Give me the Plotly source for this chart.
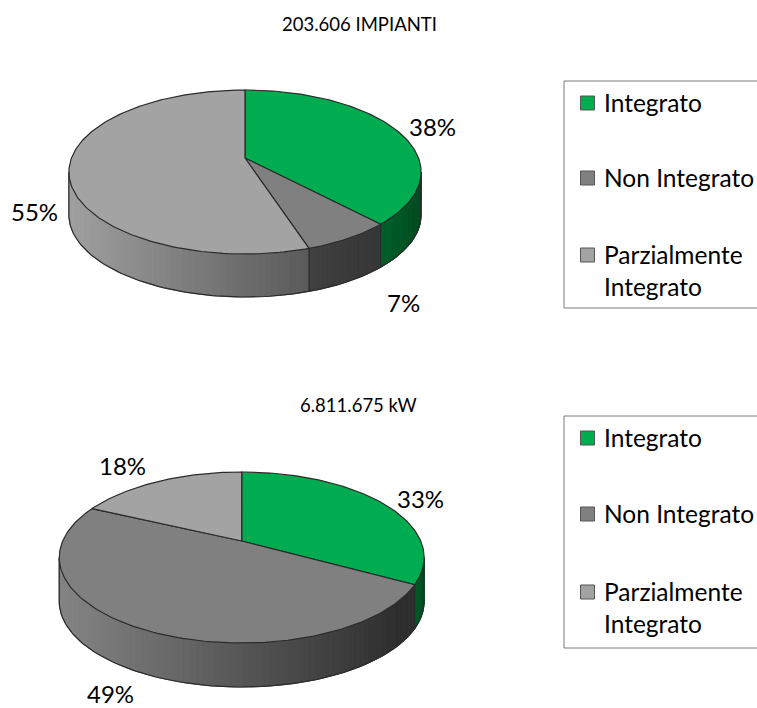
import math
import plotly.graph_objects as go

# ---- data ----
categories = ["Integrato", "Non Integrato", "Parzialmente Integrato"]
impianti_values = [38, 7, 55]
kw_values = [33, 49, 18]
impianti_title = "203.606 IMPIANTI"
kw_title = "6.811.675 kW"

# ---- styles ----
FONT = "Lato, Carlito, sans-serif"
TOP_COL = ["#00ac50", "#808080", "#a3a3a3"]
EDGE = "#2b2b2b"
W, H = 757, 708


def hexrgb(c):
    return tuple(int(c[i:i + 2], 16) for i in (1, 3, 5))


def lerp(a, b, t):
    t = max(0.0, min(1.0, t))
    ra, rb = hexrgb(a), hexrgb(b)
    return "rgb(%d,%d,%d)" % tuple(round(x + (y - x) * t) for x, y in zip(ra, rb))


class Pie:
    def __init__(self, cx, cy, up, down, R, depth):
        self.cx, self.cy, self.R, self.depth = cx, cy, R, depth
        self.k = (down - up) / (down + up)
        self.R2 = up * (1 + self.k)

    def pt(self, frac, dz=0.0):
        th = 2 * math.pi * frac
        u, v = math.sin(th), math.cos(th)
        d = 1 + self.k * v
        return self.cx + self.R * u / d, self.cy - self.R2 * v / d + dz


def arc(p, f0, f1, dz=0.0, n=None):
    n = n or max(2, int(abs(f1 - f0) * 300))
    pts = [p.pt(f0 + (f1 - f0) * i / n, dz) for i in range(n + 1)]
    return [a for a, _ in pts], [b for _, b in pts]


fig = go.Figure()


def add_pie(values, geom, side_cols):
    p = Pie(*geom)
    total = sum(values)
    # side wall silhouette: front arc, where v <= -k
    fs_right = math.acos(-p.k) / (2 * math.pi)
    fs_left = 1 - fs_right
    bounds = [0]
    for v in values:
        bounds.append(bounds[-1] + v / total)
    # wall strips
    n = 90
    for i in range(n):
        f0 = fs_right + (fs_left - fs_right) * i / n
        f1 = fs_right + (fs_left - fs_right) * (i + 1) / n
        fm = (f0 + f1) / 2
        idx = next(j for j in range(len(values)) if bounds[j] <= fm <= bounds[j + 1])
        x0, y0 = p.pt(f0)
        x1, y1 = p.pt(f1)
        xm, _ = p.pt(fm)
        lo, hi, xa, xb = side_cols[idx]
        col = lerp(lo, hi, (xm - xa) / (xb - xa))
        fig.add_trace(go.Scatter(
            x=[x0, x1, x1, x0, x0],
            y=[y0, y1, y1 + p.depth, y0 + p.depth, y0],
            mode="lines", fill="toself", fillcolor=col,
            line=dict(color=col, width=1), hoverinfo="skip", showlegend=False))
    # wall outline and seams
    bx, by = arc(p, fs_right, fs_left, p.depth)
    x0, y0 = p.pt(fs_right)
    x1, y1 = p.pt(fs_left)
    fig.add_trace(go.Scatter(x=[x0] + bx + [x1], y=[y0] + by + [y1], mode="lines",
                             line=dict(color=EDGE, width=1.2), hoverinfo="skip", showlegend=False))
    for b in bounds[1:-1]:
        if fs_right < b < fs_left:
            xa, ya = p.pt(b)
            fig.add_trace(go.Scatter(x=[xa, xa], y=[ya, ya + p.depth], mode="lines",
                                     line=dict(color=EDGE, width=1.2), hoverinfo="skip", showlegend=False))
    # top faces
    for j, name in enumerate(categories):
        ax, ay = arc(p, bounds[j], bounds[j + 1])
        fig.add_trace(go.Scatter(
            x=[p.cx] + ax + [p.cx], y=[p.cy] + ay + [p.cy],
            mode="lines", fill="toself", fillcolor=TOP_COL[j],
            line=dict(color=EDGE, width=1.2), name=name, showlegend=False,
            hovertemplate=f"{name}: {values[j]}%<extra></extra>"))


# side colours: (colour at start, colour at end, x at start, x at end)
add_pie(impianti_values, (245, 158, 68, 96, 173.5, 43), [
    ("#00602a", "#004a20", 380, 420),
    ("#363636", "#404040", 380, 308),
    ("#5a5a5a", "#a0a0a0", 308, 68),
])
add_pie(kw_values, (241.7, 541, 69, 102, 179, 44), [
    ("#00602a", "#004a20", 412, 424),
    ("#2e2e2e", "#848484", 400, 60),
    ("#808080", "#808080", 60, 61),
])


def legend(y_top, y_bot, ys):
    for xs, yy in (([564, 757], [y_top, y_top]), ([564, 564], [y_top, y_bot]), ([564, 757], [y_bot, y_bot])):
        fig.add_trace(go.Scatter(x=xs, y=yy, mode="lines", line=dict(color="#7a7a7a", width=1),
                                 hoverinfo="skip", showlegend=False))
    for j, name in enumerate(categories):
        fig.add_trace(go.Scatter(
            x=[587.5], y=[ys[j][0]], mode="markers",
            marker=dict(symbol="square", size=14, color=TOP_COL[j], line=dict(color="#555555", width=1)),
            hoverinfo="skip", showlegend=False))
        words = [name] if j < 2 else name.split(" ")
        for w, yt in zip(words, ys[j][1:]):
            fig.add_annotation(x=601.5, y=yt, text=w, showarrow=False, xanchor="left", yanchor="middle",
                               font=dict(family=FONT, size=24.5, color="#000000"))


legend(81, 308, [(103, 102), (178, 177), (255, 254, 286)])
legend(416, 648, [(438, 437), (514, 513), (592, 591, 623)])


def label(x, y, text, size=24):
    fig.add_annotation(x=x, y=y, text=text, showarrow=False, xanchor="center", yanchor="middle",
                       font=dict(family=FONT, size=size, color="#000000"))


label(359, 24, impianti_title, 18.5)
label(358, 405, kw_title, 18.5)
for (x, y), v in zip([(432, 126), (403, 302), (34, 211)], impianti_values):
    label(x, y, f"{v}%")
for (x, y), v in zip([(420, 498), (110, 693), (122, 465)], kw_values):
    label(x, y, f"{v}%")

fig.update_layout(
    width=W, height=H, autosize=False,
    margin=dict(l=0, r=0, t=0, b=0),
    paper_bgcolor="#ffffff", plot_bgcolor="#ffffff", showlegend=False,
    xaxis=dict(range=[0, W], visible=False, fixedrange=True),
    yaxis=dict(range=[H, 0], visible=False, fixedrange=True),
)
fig.write_html("out.html", post_script="document.body.style.margin='0';", config={"displayModeBar": False})
